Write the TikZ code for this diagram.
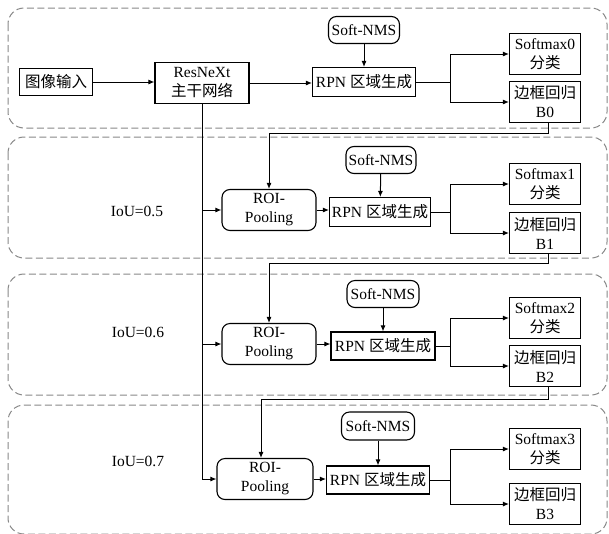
\documentclass[tikz,border=0pt]{standalone}
\usepackage{fontspec}
\setmainfont{Liberation Serif}
\newfontfamily\cjkfont{Noto Sans CJK SC}
\newcommand{\zhtext}[1]{{\cjkfont #1}}
\usetikzlibrary{
  arrows.meta,
  positioning
}
\definecolor{framecolor}{RGB}{135, 135, 135}
\definecolor{labelcolor}{RGB}{0, 0, 0}
\tikzset{
blocktext/.style={
  align=center,
  font=\fontsize{15.5}{19}\selectfont,
  text=labelcolor,
  inner sep=0pt
},
block/.style={
  draw,
  line width=1.1pt,
  minimum width=71pt,
  minimum height=41pt,
  blocktext
},
roundblock/.style={
  block,
  rounded corners=8pt
},
stagebox/.style={
  draw=framecolor,
  dash pattern=on 7pt off 3.5pt,
  line width=1pt,
  rounded corners=16pt
},
arrow/.style={
  -{Latex[length=6pt,width=5pt]},
  line width=1pt,
  draw=black
}
}

\begin{document}
\begin{tikzpicture}[x=1pt, y=-1pt]
      \useasboundingbox (0,0) rectangle (609,533);

      % Dashed stage frames
      \draw[stagebox] (8,8) rectangle (607,128);
      \draw[stagebox] (8,137) rectangle (607,258);
      \draw[stagebox] (8,274) rectangle (607,395);
      \draw[stagebox] (8,405) rectangle (607,534);

      % Stage 0
      \node[block, minimum width=73pt, minimum height=27pt] (inp) at (56,82) {\zhtext{图像输入}};
      \node[block, minimum width=94pt] (resnext) at (202,83) {ResNeXt\\\zhtext{主干网络}};
      \node[roundblock, minimum height=27pt] (nms0) at (364,30) {Soft-NMS};
      \node[block, minimum width=103pt, minimum height=29pt] (rpn0) at (364,82) {RPN \zhtext{区域生成}};
      \node[block] (sm0) at (545,54) {Softmax0\\\zhtext{分类}};
      \node[block] (bb0) at (545,102) {\zhtext{边框回归}\\B0};
      \coordinate (split) at (450,0);

      % Stage 1
      \node[blocktext] (iou1) at (137,211) {IoU=0.5};
      \node[roundblock, minimum width=94pt] (roi1) at (269,210) {ROI-\\Pooling};
      \node[roundblock, minimum height=27pt, minimum width=70pt] (nms1) at (381,160) {Soft-NMS};
      \node[block, minimum width=101pt, minimum height=29pt] (rpn1) at (380,212) {RPN \zhtext{区域生成}};
      \node[block] (sm1) at (545,184) {Softmax1\\\zhtext{分类}};
      \node[block] (bb1) at (545,233) {\zhtext{边框回归}\\B1};

      % Stage 2
      \node[blocktext] (iou2) at (138,332) {IoU=0.6};
      \node[roundblock, minimum width=94pt] (roi2) at (269,344) {ROI-\\Pooling};
      \node[roundblock, minimum height=27pt, minimum width=72pt] (nms2) at (383,294) {Soft-NMS};
      \node[block, minimum width=104pt, minimum height=28pt] (rpn2) at (383,346) {RPN \zhtext{区域生成}};
      \node[block] (sm2) at (545,318) {Softmax2\\\zhtext{分类}};
      \node[block] (bb2) at (545,366) {\zhtext{边框回归}\\B2};

      % Stage 3
      \node[blocktext] (iou3) at (138,461) {IoU=0.7};
      \node[roundblock, minimum width=96pt] (roi3) at (265,479) {ROI-\\Pooling};
      \node[roundblock, minimum height=28pt, minimum width=73pt] (nms3) at (378,426) {Soft-NMS};
      \node[block, minimum width=103pt, minimum height=28pt] (rpn3) at (378,480) {RPN \zhtext{区域生成}};
      \node[block] (sm3) at (545,449) {Softmax3\\\zhtext{分类}};
      \node[block] (bb3) at (545,504) {\zhtext{边框回归}\\B3};

      % Backbone arrows
      \draw[arrow] (inp) -- (inp -| resnext.west);
      \draw[arrow] (resnext.east) -- (resnext.east -| rpn0.west);
      \draw[arrow] (resnext.south) |- (roi3.west);
      \draw[arrow] (resnext.south |- roi1.west) -- (roi1.west);
      \draw[arrow] (resnext.south |- roi2.west) -- (roi2.west);

      % Soft-NMS into RPN
      \draw[arrow] (nms0) -- (rpn0);
      \draw[arrow] (nms1) -- (rpn1);
      \draw[arrow] (nms2) -- (rpn2);
      \draw[arrow] (nms3) -- (rpn3);

      % ROI into RPN
      \draw[arrow] (roi1.east) -- (roi1.east -| rpn1.west);
      \draw[arrow] (roi2.east) -- (roi2.east -| rpn2.west);
      \draw[arrow] (roi3.east) -- (roi3.east -| rpn3.west);

      % RPN split to heads
      \draw[arrow] (rpn0.east) -- (rpn0.east -| split) |- (sm0.west);
      \draw[arrow] (rpn0.east -| split) |- (bb0.west);
      \draw[arrow] (rpn1.east) -- (rpn1.east -| split) |- (sm1.west);
      \draw[arrow] (rpn1.east -| split) |- (bb1.west);
      \draw[arrow] (rpn2.east) -- (rpn2.east -| split) |- (sm2.west);
      \draw[arrow] (rpn2.east -| split) |- (bb2.west);
      \draw[arrow] (rpn3.east) -- (rpn3.east -| split) |- (sm3.west);
      \draw[arrow] (rpn3.east -| split) |- (bb3.west);

      % Box regression into next stage
      \draw[arrow] ([xshift=3pt]bb0.south) -- ++(0,10) -| (roi1.north);
      \draw[arrow] ([xshift=3pt]bb1.south) -- ++(0,9) -| (roi2.north);
      \draw[arrow] ([xshift=3pt]bb2.south) -- ++(0,12) -| ([xshift=-4pt]roi3.north);
\end{tikzpicture}
\end{document}
